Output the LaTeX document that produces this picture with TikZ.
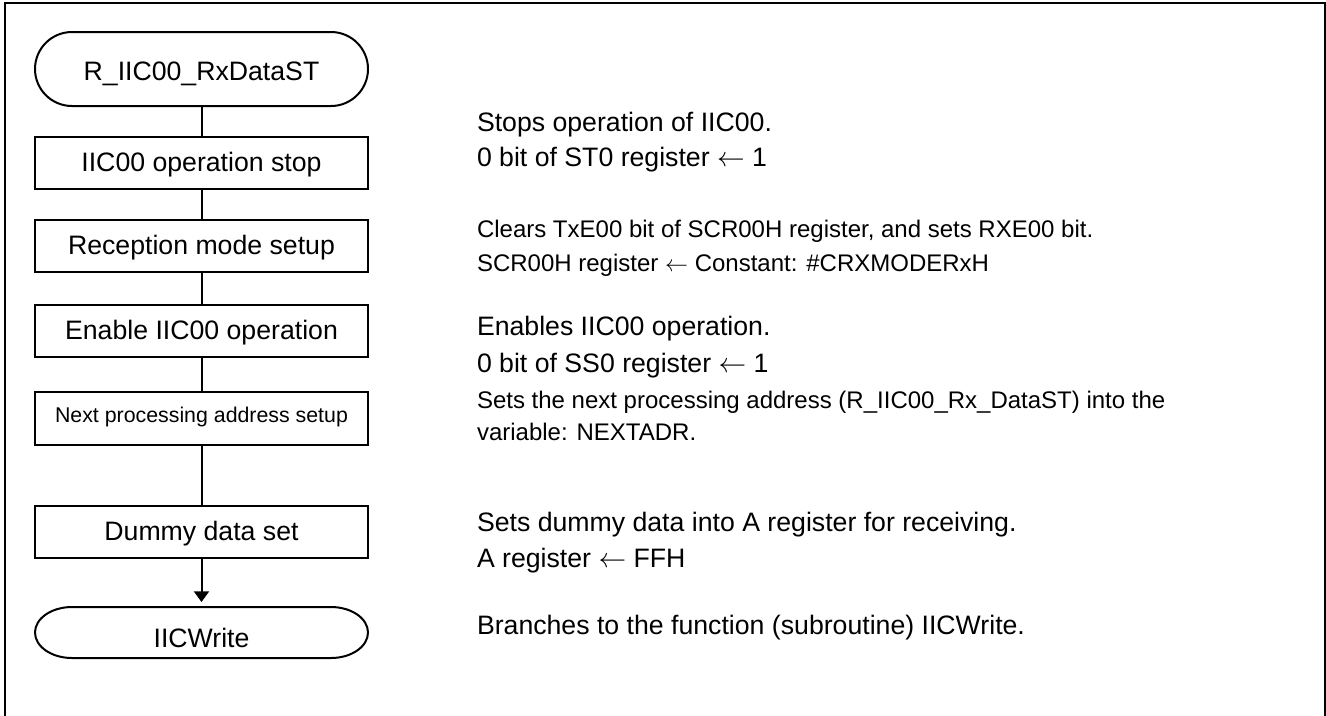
\documentclass[tikz,border=0pt]{standalone}
\usepackage{fontspec}
\setmainfont{Liberation Sans}
\usetikzlibrary{arrows.meta}
\newcommand{\larr}{\(\leftarrow\)}
\begin{document}
\begin{tikzpicture}[x=0.75pt,y=-0.75pt, line width=1.5pt,
  box/.style={draw, rectangle, minimum width=249.75pt, minimum height=39pt, inner sep=0pt, outer sep=0pt,
    font=\fontsize{20}{24}\selectfont, text height=12.8pt, text depth=0pt},
  term/.style={rectangle, minimum width=249.75pt, inner sep=0pt, outer sep=0pt,
    font=\fontsize{20}{24}\selectfont, text depth=0pt},
  desc/.style={anchor=base west, inner sep=0pt, font=\fontsize{20}{24}\selectfont},
  descs/.style={desc, font=\fontsize{18}{22}\selectfont},
  flow/.style={draw},
  arr/.style={draw, -{Triangle[width=11.25pt,length=8pt]}, shorten >=3.75pt}
]
\useasboundingbox (0,0) rectangle (1326,715);
\draw (4.5,3) rectangle (1324.5,740);

% flowchart nodes
\node[term, minimum height=55.5pt, text height=16.5pt] (t1) at (201.5,69) {R\_IIC00\_RxDataST};
\node[box] (b1) at (201.5,163) {IIC00 operation stop};
\node[box] (b2) at (201.5,246) {Reception mode setup};
\node[box] (b3) at (201.5,331) {Enable IIC00 operation};
\node[box, minimum height=39.75pt, font=\fontsize{16}{19}\selectfont, text height=6.3pt] (b4) at (201.5,418.5) {Next processing address setup};
\node[box] (b5) at (201.5,531.5) {Dummy data set};
\node[term, minimum height=38.25pt, text height=22.8pt] (t2) at (201.5,632.5) {IICWrite};

% terminal outlines
\draw ([xshift=27.75pt]t1.north west) -- ([xshift=-27.75pt]t1.north east)
  arc[start angle=90, end angle=-90, radius=27.75pt]
  -- ([xshift=27.75pt]t1.south west)
  arc[start angle=270, end angle=90, radius=27.75pt] -- cycle;
\draw ([xshift=27.75pt]t2.north west) -- ([xshift=-27.75pt]t2.north east)
  arc[start angle=90, end angle=-90, x radius=27.75pt, y radius=19.125pt]
  -- ([xshift=27.75pt]t2.south west)
  arc[start angle=270, end angle=90, x radius=27.75pt, y radius=19.125pt] -- cycle;

% connectors
\path[flow] (t1.south) -- (b1.north);
\path[flow] (b1.south) -- (b2.north);
\path[flow] (b2.south) -- (b3.north);
\path[flow] (b3.south) -- (b4.north);
\path[flow] (b4.south) -- (b5.north);
\path[arr] (b5.south) -- (t2.north);

% descriptions
\node[desc] (d1a) at (476,131) {Stops operation of IIC00.};
\node[desc] (d1b) at (476,166) {0 bit of ST0 register \larr{} 1};
\node[descs] (d2a) at (476,237) {Clears TxE00 bit of SCR00H register, and sets RXE00 bit.};
\node[descs] (d2b) at (476,271) {SCR00H register \larr{} Constant: \#CRXMODERxH};
\node[desc] (d3a) at (476,335) {Enables IIC00 operation.};
\node[desc] (d3b) at (476,372) {0 bit of SS0 register \larr{} 1};
\node[descs] (d4a) at (476,408) {Sets the next processing address (R\_IIC00\_Rx\_DataST) into the};
\node[descs] (d4b) at (476,440) {variable: NEXTADR.};
\node[desc] (d5a) at (476,531) {Sets dummy data into A register for receiving.};
\node[desc] (d5b) at (476,567) {A register \larr{} FFH};
\node[desc] (d6) at (476,634) {Branches to the function (subroutine) IICWrite.};
\end{tikzpicture}
\end{document}
